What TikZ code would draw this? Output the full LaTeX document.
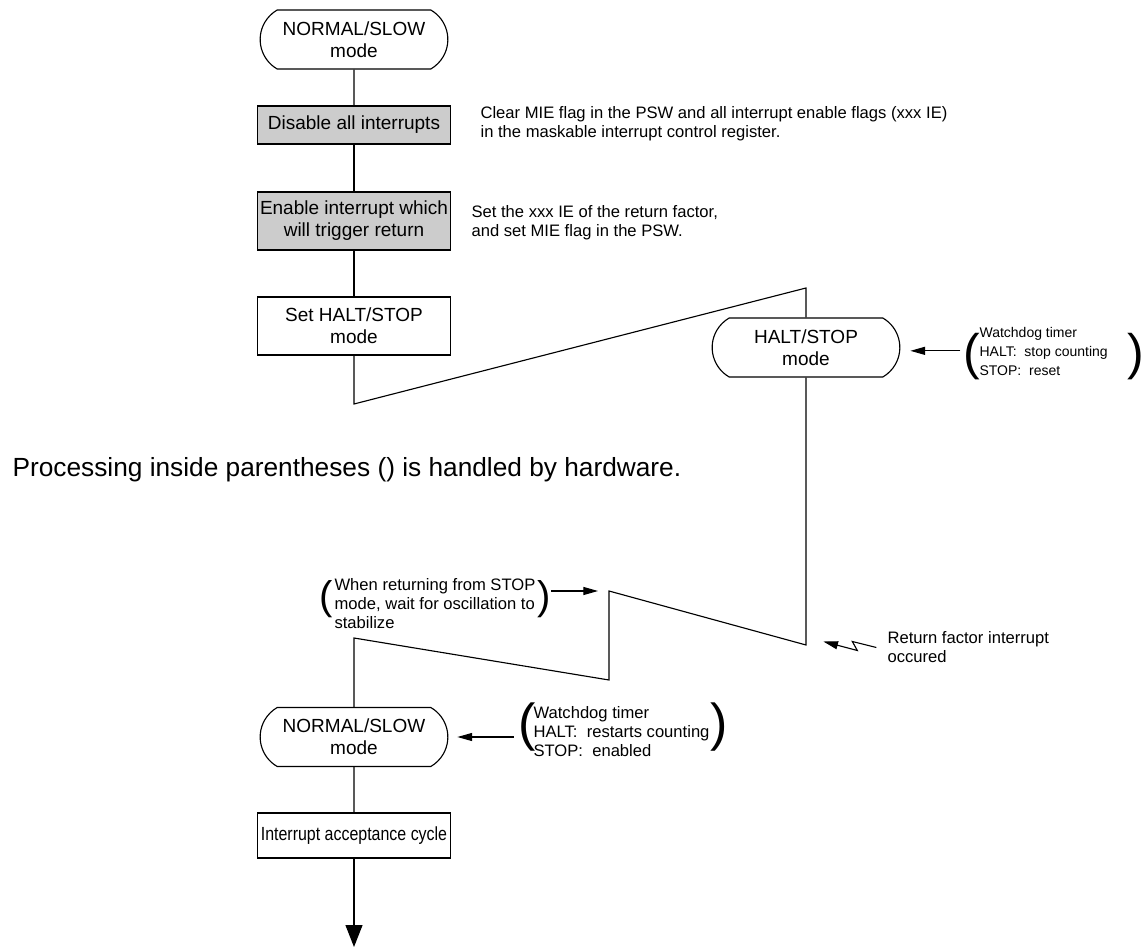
\documentclass[tikz,border=0pt]{standalone}
\usepackage{fontspec}
\setmainfont{Liberation Sans}
\newfontfamily\condfont[FakeStretch=0.84]{Liberation Sans}
\usetikzlibrary{positioning,arrows.meta,calc,shapes.misc}

\begin{document}
\begin{tikzpicture}[
		x=0.75pt, y=-0.75pt,
		line width=0.85pt,
		font=\fontsize{14.25pt}{16.5pt}\selectfont,
		box/.style={draw, align=center, inner sep=2pt, minimum width=144.75pt, minimum height=43.5pt},
		shaded/.style={box, fill=gray!40},
		terminal/.style={draw, rounded rectangle, rounded rectangle arc length=120, align=center,
			inner sep=2pt, minimum width=144.75pt, minimum height=44.25pt},
		note/.style={align=left, anchor=west, inner sep=0pt, font=\fontsize{12.45pt}{14.25pt}\selectfont},
		paren/.style={inner sep=0pt, font=\fontsize{#1}{#1}\selectfont},
		arr/.style={-{Triangle[length=11pt, width=6pt]}}
		]
		\useasboundingbox (0,0) rectangle (1147,948);
		\node[terminal] (start) at (354,39.5) {NORMAL/SLOW\\mode};
		\node[shaded, minimum height=28.5pt] (disable) at (354,125) {Disable all interrupts};
		\node[shaded] (enable) at (354,221) {Enable interrupt which\\will trigger return};
		\node[box] (sethalt) at (354,326) {Set HALT/STOP\\mode};
		\node[terminal] (halt) at (806,347.5) {HALT/STOP\\mode};
		\node[terminal] (resume) at (354,737) {NORMAL/SLOW\\mode};
		\node[box, minimum height=33.75pt, font=\condfont\fontsize{14.25pt}{16.5pt}\selectfont] (accept)
		at (354,835.5) {Interrupt acceptance cycle};
		\node[note] (clearnote) at (480,123.5)
		{Clear MIE flag in the PSW and all interrupt enable flags (xxx IE)\\
			in the maskable interrupt control register.};
		\node[note] (setnote) at (471,223)
		{Set the xxx IE of the return factor,\\and set MIE flag in the PSW.};
		\node[note, font=\fontsize{19.7pt}{24pt}\selectfont] (hwnote) at (12,470)
		{Processing inside parentheses () is handled by hardware.};
		\node[note, font=\fontsize{10.5pt}{14.25pt}\selectfont] (wdhalt) at (979,351)
		{Watchdog timer\\HALT:\ \ stop counting\\STOP:\ \ reset};
		\node[paren=37.5pt] (wdhaltl) at (972,356.5) {(};
		\node[paren=37.5pt] (wdhaltr) at (1136,357) {)};
		\node[note] (wdresume) at (533,732)
		{Watchdog timer\\HALT:\ \ restarts counting\\STOP:\ \ enabled};
		\node[paren=39pt] (wdresumel) at (527,727.5) {(};
		\node[paren=39pt] (wdresumer) at (719,727.5) {)};
		\node[note] (rfnote) at (887,647.5) {Return factor interrupt\\occured};
		\node[note] (oscnote) at (334,604)
		{When returning from STOP\\mode, wait for oscillation to\\stabilize};
		\node[paren=30pt] (oscl) at (326,599) {(};
		\node[paren=30pt] (oscr) at (544,599) {)};
		\coordinate (z1) at (354,404);
		\coordinate (z2) at (806,288);
		\coordinate (z3) at (806,645);
		\coordinate (z4) at (609,591);
		\coordinate (z5) at (609,680);
		\coordinate (z6) at (354,638);
		\coordinate (out) at (354,947);
		\draw (start) -- (disable);
		\draw (disable) -- (enable);
		\draw (enable) -- (sethalt);
		\draw (sethalt.south) -- (z1) -- (z2) -- (halt.north);
		\draw (halt.south) -- (z3) -- (z4) -- (z5) -- (z6) -- (resume.north);
		\draw (resume) -- (accept);
		\draw[-{Triangle[length=16.5pt, width=12.75pt]}] (accept) -- (out);
		\draw[arr] ([xshift=-2pt, yshift=-2.5pt]wdhaltl.west |- halt.east)
		-- ([xshift=7.5pt, yshift=-2.5pt]halt.east);
		\draw[arr] ([xshift=-3pt]wdresumel.west |- resume.east) -- ([xshift=6.75pt]resume.east);
		\draw[arr] (oscr.east |- z4) -- ([xshift=-8.25pt]z4);
		\draw[arr] ([xshift=-8pt]rfnote.west) -- ++(-24,-6) -- ++(5,9) -- ++(-34,-9);
	\end{tikzpicture}
\end{document}
